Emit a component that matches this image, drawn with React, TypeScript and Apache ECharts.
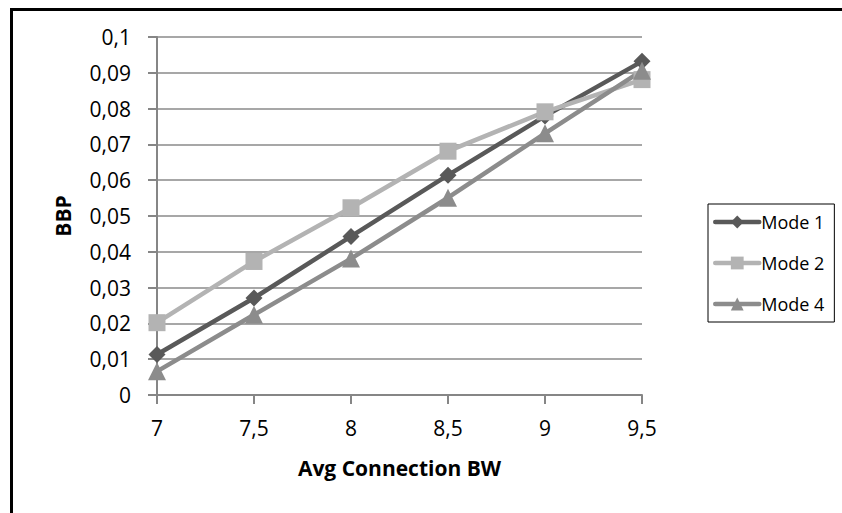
import React, { useEffect, useRef } from "react";
import * as echarts from "echarts";

const categories = ["7", "7,5", "8", "8,5", "9", "9,5"];
const mode1 = [0.0113, 0.0271, 0.0443, 0.0614, 0.0779, 0.0932];
const mode2 = [0.0202, 0.0373, 0.0523, 0.0681, 0.0791, 0.0881];
const mode4 = [0.0066, 0.0224, 0.0381, 0.0551, 0.0731, 0.0906];
const seriesNames = ["Mode 1", "Mode 2", "Mode 4"];

const FONT = "'Open Sans', sans-serif";

function fmt(v: number): string {
  if (v === 0) return "0";
  return String(+v.toFixed(2)).replace(".", ",");
}

export default function App() {
  const ref = useRef<HTMLDivElement>(null);
  useEffect(() => {
    if (!ref.current) return;
    const chart = echarts.init(ref.current, undefined, { renderer: "svg" });
    chart.setOption({
      animation: false,
      backgroundColor: "#ffffff",
      textStyle: { fontFamily: FONT },
      graphic: [
        {
          type: "rect",
          shape: { x: 11.5, y: 9.5, width: 1000, height: 1000 },
          style: { fill: "none", stroke: "#000", lineWidth: 3 },
          silent: true,
        },
      ],
      grid: { left: 157, right: 200, top: 37, bottom: 118 },
      legend: {
        orient: "vertical",
        left: 708,
        top: 204,
        padding: [9, 10, 9, 5],
        borderColor: "#000",
        borderWidth: 1,
        itemWidth: 44,
        itemHeight: 16,
        itemGap: 23,
        lineStyle: { width: 4.5, cap: "round" },
        textStyle: { fontFamily: FONT, fontSize: 18, color: "#000", padding: [0, 0, 0, -3] },
        data: seriesNames,
      },
      xAxis: {
        type: "category",
        data: categories,
        boundaryGap: false,
        name: "Avg Connection BW",
        nameLocation: "middle",
        nameGap: 62,
        nameTextStyle: { fontFamily: FONT, fontSize: 21, fontWeight: "bold", color: "#000" },
        axisLine: { lineStyle: { color: "#868686", width: 2 } },
        axisTick: { show: true, length: 9, alignWithLabel: true, lineStyle: { color: "#868686", width: 2 } },
        axisLabel: { fontFamily: FONT, fontSize: 21, color: "#000", margin: 22 },
        splitLine: { show: false },
      },
      yAxis: {
        type: "value",
        min: 0,
        max: 0.1,
        interval: 0.01,
        name: "BBP",
        nameLocation: "middle",
        nameGap: 84,
        nameTextStyle: { fontFamily: FONT, fontSize: 21, fontWeight: "bold", color: "#000" },
        axisLine: { show: true, lineStyle: { color: "#868686", width: 2 } },
        axisTick: { show: true, length: 9, lineStyle: { color: "#868686", width: 2 } },
        axisLabel: { fontFamily: FONT, fontSize: 21, color: "#000", margin: 26, formatter: fmt },
        splitLine: { show: true, lineStyle: { color: "#8a8a8a", width: 1.5 } },
      },
      series: [
        {
          name: "Mode 1",
          type: "line",
          data: mode1,
          color: "#595959",
          lineStyle: { width: 4.5, color: "#595959" },
          symbol: "diamond",
          symbolSize: 17,
          itemStyle: { color: "#595959" },
        },
        {
          name: "Mode 2",
          type: "line",
          data: mode2,
          color: "#b3b3b3",
          lineStyle: { width: 4.5, color: "#b3b3b3" },
          symbol: "rect",
          symbolSize: 17,
          itemStyle: { color: "#b3b3b3" },
        },
        {
          name: "Mode 4",
          type: "line",
          data: mode4,
          color: "#8c8c8c",
          lineStyle: { width: 4.5, color: "#8c8c8c" },
          symbol: "triangle",
          symbolSize: 18,
          itemStyle: { color: "#8c8c8c" },
        },
      ],
    });
    return () => chart.dispose();
  }, []);
  return (
    <div
      ref={ref}
      style={{ position: "fixed", left: 0, top: 0, width: 842, height: 513 }}
    />
  );
}
